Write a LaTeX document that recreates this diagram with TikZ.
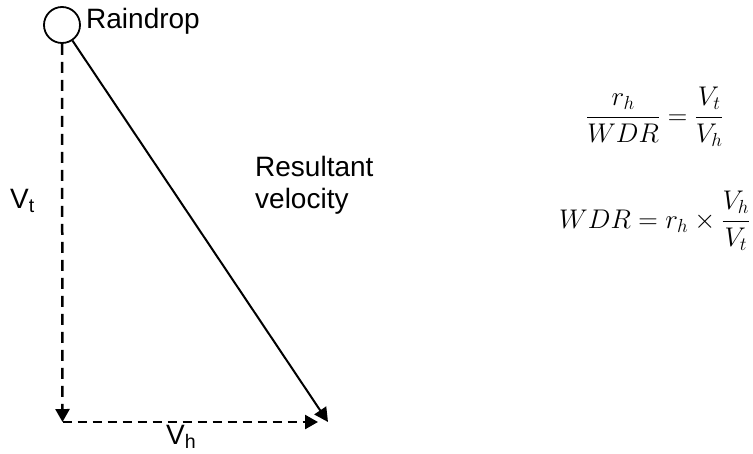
\RequirePackage{fix-cm}
\documentclass[tikz,border=0pt]{standalone}
\usepackage[no-math]{fontspec}
\setmainfont{Liberation Sans}
\usetikzlibrary{arrows.meta}
\begin{document}
\begin{tikzpicture}[x=1pt,y=-1pt,
  lbl/.style={font=\fontsize{28}{32}\selectfont, inner sep=0pt},
  mathlbl/.style={font=\fontsize{27}{32}\selectfont, inner sep=0pt},
  dashvec/.style={line width=2.5pt, -{Triangle[length=13pt,width=14pt]}},
  vdash/.style={dash pattern=on 11pt off 7pt},
  hdash/.style={dash pattern=on 9pt off 6pt},
  solidvec/.style={line width=2pt, -{Triangle[length=14pt,width=14pt]}},
  drop/.style={circle, draw, line width=1.8pt, minimum size=36pt, inner sep=0pt}]
\useasboundingbox (0,0) rectangle (753,453);
\node[drop] (rd) at (62,25) {};
\coordinate (corner) at (62.5,422);
\coordinate (htip) at (318,422);
\coordinate (rtip) at (328,422);
\draw[dashvec, vdash] (rd.south) -- (corner);
\draw[dashvec, hdash] (corner) -- (htip);
\draw[solidvec] (rd) -- (rtip);
\node[lbl, anchor=base west] (lraindrop) at (86,28) {Raindrop};
\node[lbl, anchor=base west] (lvt) at (10,208) {V\textsubscript{t}};
\node[lbl, anchor=base west, align=left] (lres) at (255,208) {Resultant\\velocity};
\node[lbl, anchor=base west] (lvh) at (166,444) {V\textsubscript{h}};
\node[mathlbl, anchor=base west] (eq1) at (586,124) {$\displaystyle \frac{r_h}{WDR}=\frac{V_t}{V_h}$};
\node[mathlbl, anchor=base west] (eq2) at (559,228) {$\displaystyle WDR=r_h\times\frac{V_h}{V_t}$};
\end{tikzpicture}
\end{document}
